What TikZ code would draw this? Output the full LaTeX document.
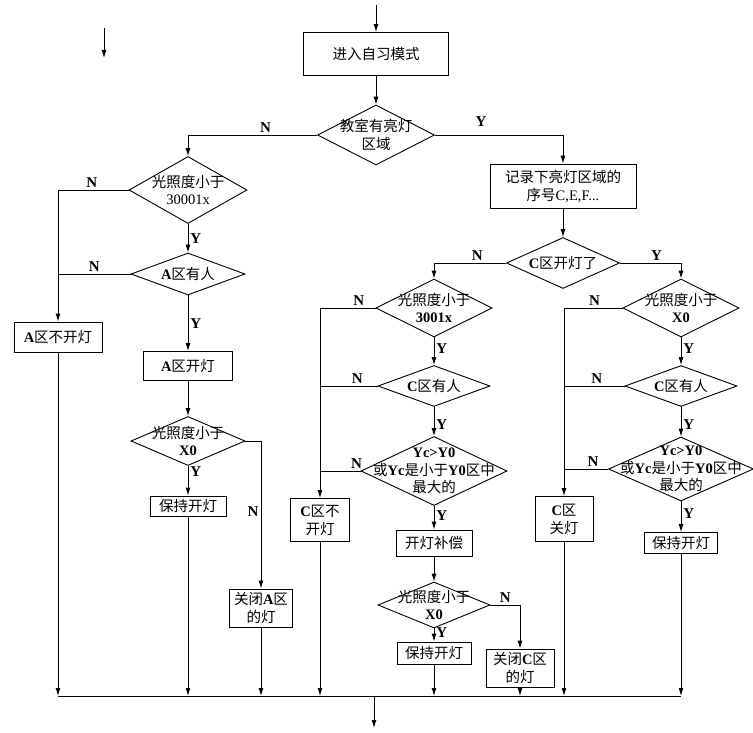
\documentclass[tikz,border=0pt]{standalone}
\usepackage{fontspec}
\setmainfont{Liberation Serif}
\newfontfamily\cjk{Noto Sans CJK SC}
\usetikzlibrary{arrows.meta,shapes.geometric}
\newcommand{\zh}[1]{{\cjk #1}}
\tikzset{
  blk/.style={draw, line width=0.9pt, align=center, inner sep=0pt,
              font=\fontsize{14.5}{18}\selectfont},
  dec/.style={draw, diamond, line width=0.9pt, inner sep=0pt},
  dtxt/.style={align=center, inner sep=0pt, font=\fontsize{14.5}{17.5}\selectfont},
  flow/.style={-{Latex[length=8pt,width=5pt]}, line width=0.9pt},
  jline/.style={line width=0.9pt},
  yn/.style={font=\fontsize{15}{15}\selectfont\bfseries, inner sep=2pt},
}

\begin{document}
\begin{tikzpicture}[x=1pt,y=-1pt]
\useasboundingbox (0,0) rectangle (753,733);
% ---- top ----
\coordinate (entry) at (376,5);
\coordinate (strayA) at (104,28);
\coordinate (strayB) at (104,58);
\node[blk, minimum width=145pt, minimum height=43pt] (start) at (376,54) {\zh{进入自习模式}};
\node[dec, minimum width=117pt, minimum height=60pt,
      label={[dtxt]center:{\zh{教室有亮灯}\\\zh{区域}}}] (d1) at (376,135) {};
\node[blk, minimum width=146pt, minimum height=44pt] (b1) at (563,186)
  {\zh{记录下亮灯区域的}\\\zh{序号}C,E,F...};
% ---- left branch (A) ----
\node[dec, minimum width=118pt, minimum height=67pt,
      label={[dtxt]center:{\zh{光照度小于}\\30001x}}] (d2) at (188,190) {};
\node[dec, minimum width=114pt, minimum height=42pt,
      label={[dtxt]center:{\textbf{A}\zh{区有人}}}] (d3) at (188,274) {};
\node[blk, minimum width=88pt, minimum height=30pt] (bA0) at (58,337) {\textbf{A}\zh{区不开灯}};
\node[blk, minimum width=89pt, minimum height=29pt] (bA1) at (188,366) {\textbf{A}\zh{区开灯}};
\node[dec, minimum width=114pt, minimum height=49pt,
      label={[dtxt]center:{\zh{光照度小于}\\\textbf{X0}}}] (d4) at (188,441) {};
\node[blk, minimum width=76pt, minimum height=20pt] (bA2) at (188,506) {\zh{保持开灯}};
\node[blk, minimum width=63pt, minimum height=38pt] (bA3) at (261,608) {\zh{关闭}\textbf{A}\zh{区}\\\zh{的灯}};
% ---- right branch (C) ----
\node[dec, minimum width=113pt, minimum height=51pt,
      label={[dtxt]center:{\textbf{C}\zh{区开灯了}}}] (d6) at (563,263) {};
\node[dec, minimum width=116pt, minimum height=58pt,
      label={[dtxt]center:{\zh{光照度小于}\\\textbf{3001x}}}] (d7) at (434,308) {};
\node[dec, minimum width=112pt, minimum height=41pt,
      label={[dtxt]center:{\textbf{C}\zh{区有人}}}] (d8) at (434,386) {};
\node[dec, minimum width=146pt, minimum height=69pt,
      label={[dtxt]center:{\textbf{Yc>Y0}\\\zh{或}\textbf{Yc}\zh{是小于}\textbf{Y0}\zh{区中}\\\zh{最大的}}}] (d9) at (434,471) {};
\node[blk, minimum width=59pt, minimum height=43pt] (bC0) at (320,520) {\textbf{C}\zh{区不}\\\zh{开灯}};
\node[blk, minimum width=76pt, minimum height=26pt] (bC1) at (434,543) {\zh{开灯补偿}};
\node[dec, minimum width=112pt, minimum height=46pt,
      label={[dtxt]center:{\zh{光照度小于}\\\textbf{X0}}}] (d11) at (434,605) {};
\node[blk, minimum width=74pt, minimum height=22pt] (bC2) at (434,653) {\zh{保持开灯}};
\node[blk, minimum width=68pt, minimum height=38pt] (bC3) at (520,668) {\zh{关闭}\textbf{C}\zh{区}\\\zh{的灯}};
\node[dec, minimum width=116pt, minimum height=58pt,
      label={[dtxt]center:{\zh{光照度小于}\\\textbf{X0}}}] (d10) at (681,308) {};
\node[dec, minimum width=112pt, minimum height=41pt,
      label={[dtxt]center:{\textbf{C}\zh{区有人}}}] (d12) at (681,386) {};
\node[dec, minimum width=145pt, minimum height=64pt,
      label={[dtxt]center:{\textbf{Yc>Y0}\\\zh{或}\textbf{Yc}\zh{是小于}\textbf{Y0}\zh{区中}\\\zh{最大的}}}] (d13) at (681,469) {};
\node[blk, minimum width=58pt, minimum height=45pt] (bC4) at (564,519) {\textbf{C}\zh{区}\\\zh{关灯}};
\node[blk, minimum width=73pt, minimum height=21pt] (bC5) at (681,543) {\zh{保持开灯}};
% ---- bottom bus ----
\coordinate (busL) at (58,696);
\coordinate (busR) at (681,696);
\coordinate (outA) at (374,696);
\coordinate (outB) at (374,728);

% ---- connections ----
\draw[flow] (entry) -- (start.north);
\draw[flow] (strayA) -- (strayB);
\draw[flow] (start) -- (d1);
\draw[flow] (d1.west) -| (d2.north) node[yn,pos=0.2,above]{N};
\draw[flow] (d1.east) -| (b1.north) node[yn,pos=0.18,above=6pt]{Y};
\draw[flow] (b1) -- (d6);
% A side
\draw[flow] (d2.west) -| (bA0.north) node[yn,pos=0.26,above]{N};
\draw[flow] (d2) -- (d3) node[yn,midway,right]{Y};
\draw[jline] (d3.west) -- (d3.west -| bA0.north) node[yn,midway,above]{N};
\draw[flow] (d3) -- (bA1) node[yn,midway,right]{Y};
\draw[flow] (bA1) -- (d4);
\draw[flow] (d4.east) -| (bA3.north) node[yn,pos=0.74,left]{N};
\draw[flow] (d4) -- (bA2) node[yn,pos=0.2,right]{Y};
% C side, light off
\draw[flow] (d6.west) -| (d7.north) node[yn,pos=0.2,above]{N};
\draw[flow] (d7.west) -| (bC0.north) node[yn,pos=0.15,above]{N};
\draw[flow] (d7) -- (d8) node[yn,pos=0.4,right]{Y};
\draw[jline] (d8.west) -- (d8.west -| bC0.north) node[yn,pos=0.35,above]{N};
\draw[flow] (d8) -- (d9) node[yn,pos=0.6,right]{Y};
\draw[jline] (d9.west) -- (d9.west -| bC0.north) node[yn,pos=0.1,above]{N};
\draw[flow] (d9) -- (bC1) node[yn,pos=0.4,right]{Y};
\draw[flow] (bC1) -- (d11);
\draw[flow] (d11.east) -| (bC3.north) node[yn,pos=0.25,above]{N};
\draw[flow] (d11) -- (bC2) node[yn,pos=0.3,right]{Y};
% C side, light on
\draw[flow] (d6.east) -| (d10.north) node[yn,pos=0.3,above]{Y};
\draw[flow] (d10.west) -| (bC4.north) node[yn,pos=0.24,above]{N};
\draw[flow] (d10) -- (d12) node[yn,pos=0.4,right]{Y};
\draw[jline] (d12.west) -- (d12.west -| bC4.north) node[yn,pos=0.46,above]{N};
\draw[flow] (d12) -- (d13) node[yn,pos=0.6,right]{Y};
\draw[jline] (d13.west) -- (d13.west -| bC4.north) node[yn,pos=0.34,above]{N};
\draw[flow] (d13) -- (bC5) node[yn,pos=0.4,right]{Y};
% into the bus
\draw[jline] (busL) -- (busR);
\foreach \b in {bA0,bA2,bA3,bC0,bC2,bC3,bC4,bC5}
  \draw[flow] (\b.south) -- (\b.south |- busL);
\draw[flow] (outA) -- (outB);
\end{tikzpicture}
\end{document}
